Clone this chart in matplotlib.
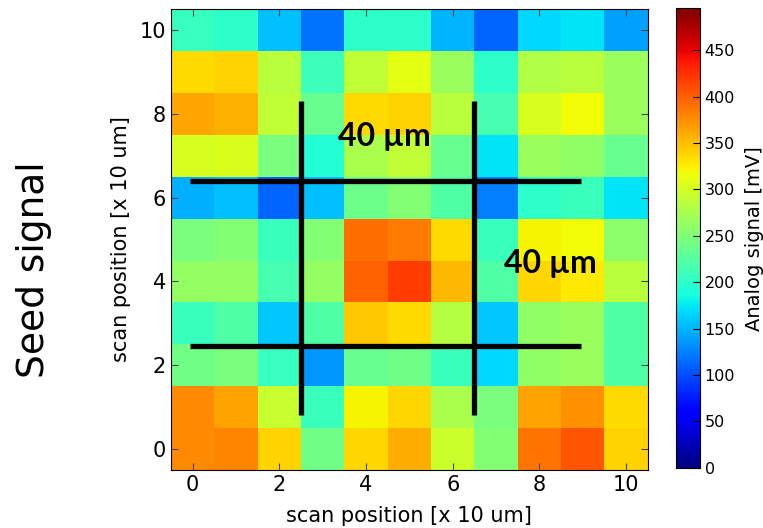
import numpy as np
import matplotlib
matplotlib.use("Agg")
import matplotlib.pyplot as plt

# seed signal [mV], rows from y=0 (bottom) to y=10 (top), columns x=0..10
row_0 = [378, 380, 340, 240, 337, 359, 295, 252, 390, 405, 340]
row_1 = [378, 365, 292, 207, 322, 337, 275, 247, 365, 375, 335]
row_2 = [240, 247, 205, 137, 235, 240, 207, 168, 260, 265, 222]
row_3 = [207, 222, 160, 222, 346, 335, 282, 160, 260, 265, 222]
row_4 = [262, 262, 215, 262, 400, 418, 352, 222, 337, 328, 285]
row_5 = [247, 252, 207, 252, 392, 385, 335, 207, 322, 318, 258]
row_6 = [148, 155, 111, 155, 238, 252, 222, 125, 200, 207, 173]
row_7 = [302, 305, 247, 195, 275, 290, 235, 173, 265, 260, 235]
row_8 = [362, 357, 290, 235, 335, 340, 285, 215, 302, 318, 265]
row_9 = [335, 340, 285, 210, 290, 310, 265, 200, 280, 285, 265]
row_10 = [205, 200, 155, 118, 200, 200, 150, 111, 168, 173, 140]

# guide lines marking the 40 um cell
vlines_x = [2.5, 6.5]
vlines_y = [0.8, 8.3]
hlines_y = [6.4, 2.45]
hlines_x = [-0.07, 8.97]

cbar_ticks = [0, 50, 100, 150, 200, 250, 300, 350, 400, 450]

data = np.array([row_0, row_1, row_2, row_3, row_4, row_5,
                 row_6, row_7, row_8, row_9, row_10])

fig = plt.figure(figsize=(7.63, 5.28), dpi=100)
ax = fig.add_axes([0.224, 0.110, 0.625, 0.873])
im = ax.imshow(data, cmap='jet', origin='lower', vmin=0, vmax=495,
               interpolation='nearest', aspect='auto',
               extent=(-0.5, 10.5, -0.5, 10.5))

for x in vlines_x:
    ax.plot([x, x], vlines_y, color='black', lw=3.8, solid_capstyle='butt')
for y in hlines_y:
    ax.plot(hlines_x, [y, y], color='black', lw=3.8, solid_capstyle='butt')

ax.text(4.42, 7.45, '40 µm', fontsize=23, fontweight='bold',
        family='Lato', ha='center', va='center')
ax.text(8.25, 4.42, '40 µm', fontsize=23, fontweight='bold',
        family='Lato', ha='center', va='center')

ax.set_xlim(-0.5, 10.5)
ax.set_ylim(-0.5, 10.5)
ax.set_xticks([0, 2, 4, 6, 8, 10])
ax.set_yticks([0, 2, 4, 6, 8, 10])
ax.tick_params(direction='in', top=True, right=True, labelsize=15,
               length=5, color='#444444')
ax.set_xlabel('scan position [x 10 um]', fontsize=15, labelpad=8)
ax.set_ylabel('scan position [x 10 um]', fontsize=15, labelpad=6)

fig.text(0.045, 0.49, 'Seed signal', fontsize=27, rotation=90,
         ha='center', va='center')

cax = fig.add_axes([0.886, 0.114, 0.031, 0.870])
cb = fig.colorbar(im, cax=cax, ticks=cbar_ticks)
cb.ax.tick_params(labelsize=11.5, direction='in', length=5)
cb.set_label('Analog signal [mV]', fontsize=14, labelpad=7)

fig.savefig('out.png', dpi=100)
